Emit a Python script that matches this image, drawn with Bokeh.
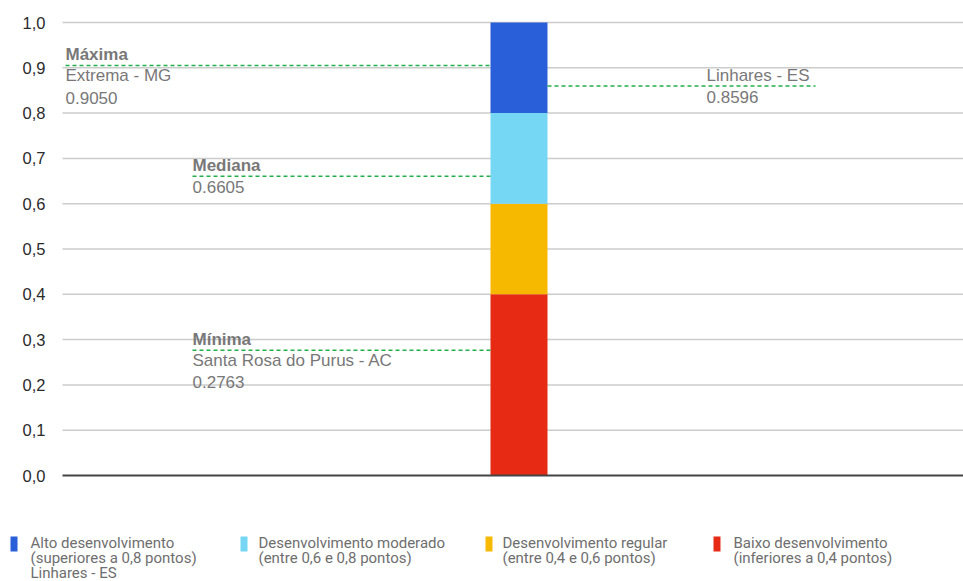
from bokeh.plotting import figure
from bokeh.models import Range1d, ColumnDataSource
from bokeh.core.properties import value
from bokeh.embed import file_html
from bokeh.resources import INLINE

# ---- data ----
band_names = ["Baixo desenvolvimento", "Desenvolvimento regular",
              "Desenvolvimento moderado", "Alto desenvolvimento"]
band_bottom = [0.0, 0.4, 0.6, 0.8]
band_top = [0.4, 0.6, 0.8, 1.0]
band_colors = ["#E62A13", "#F6B900", "#76D7F5", "#2A5FDA"]

marker_titles = ["Máxima", "Mediana", "Mínima", "Linhares - ES"]
marker_bold = [True, True, True, False]
marker_places = ["Extrema - MG", "", "Santa Rosa do Purus - AC", ""]
marker_values = [0.9050, 0.6605, 0.2763, 0.8596]
marker_labels = ["0.9050", "0.6605", "0.2763", "0.8596"]

tick_values = [0.0, 0.1, 0.2, 0.3, 0.4, 0.5, 0.6, 0.7, 0.8, 0.9, 1.0]
tick_labels = ["0,0", "0,1", "0,2", "0,3", "0,4", "0,5", "0,6", "0,7", "0,8", "0,9", "1,0"]

legend_titles = ["Alto desenvolvimento", "Desenvolvimento moderado",
                 "Desenvolvimento regular", "Baixo desenvolvimento"]
legend_subs = ["(superiores a 0,8 pontos)", "(entre 0,6 e 0,8 pontos)",
               "(entre 0,4 e 0,6 pontos)", "(inferiores a 0,4 pontos)"]
legend_extra = ["Linhares - ES", "", "", ""]
legend_colors = ["#2A5FDA", "#76D7F5", "#F6B900", "#E62A13"]

# ---- layout (x in page pixels; y scale: 453 px per unit, zero at page y=475) ----
W, H = 963, 581
ZERO_PY, PX_PER_UNIT = 475, 453.0


def py(v):
    """page-pixel row -> y data value (layout helper for the legend)"""
    return (ZERO_PY - v) / PX_PER_UNIT


PLOT_X0, PLOT_X1 = 62, 963
BAR_X, BAR_W = 518.5, 57
ANN_X0 = [65, 192, 192, 547]
ANN_X1 = [490, 490, 490, 815]
TXT_X = [65, 192, 192, 706]

TEXT_FONT = "Liberation Sans"
GRAY = "#787878"

p = figure(width=W, height=H, output_backend="svg", toolbar_location=None,
           x_range=Range1d(0, W), y_range=Range1d(py(H), py(0)), min_border=0)
p.outline_line_color = None
p.axis.visible = False
p.grid.visible = False

# gridlines and tick labels
grid_vals = [v for v in tick_values if v > 0]
p.segment(x0=[PLOT_X0] * len(grid_vals), y0=grid_vals, x1=[PLOT_X1] * len(grid_vals), y1=grid_vals,
          line_color="#cccccc", line_width=1.5)
p.text(x=[45] * len(tick_values), y=tick_values, text=tick_labels,
       text_font=value(TEXT_FONT), text_font_size="16.5px", text_color="#2b2b2b",
       text_align="right", text_baseline="middle")

# stacked bar
src = ColumnDataSource(dict(x=[BAR_X] * 4, bottom=band_bottom, top=band_top, color=band_colors))
p.vbar(x="x", width=BAR_W, bottom="bottom", top="top", color="color", source=src, line_color=None)

# zero baseline
p.segment(x0=[PLOT_X0], y0=[0.0], x1=[PLOT_X1], y1=[0.0], line_color="#444444", line_width=2)

# marker lines
p.segment(x0=ANN_X0, y0=marker_values, x1=ANN_X1, y1=marker_values,
          line_color="#22B04B", line_width=1.5, line_dash="4 3")

# marker texts
for i in range(4):
    p.text(x=[TXT_X[i]], y=[marker_values[i]], text=[marker_titles[i]], y_offset=-11,
           text_font=value(TEXT_FONT), text_font_size="17px",
           text_font_style="bold" if marker_bold[i] else "normal",
           text_color=GRAY, text_baseline="middle", text_align="left")
    off = 11
    if marker_places[i]:
        p.text(x=[TXT_X[i]], y=[marker_values[i]], text=[marker_places[i]], y_offset=10,
               text_font=value(TEXT_FONT), text_font_size="17px",
               text_color=GRAY, text_baseline="middle", text_align="left")
        off = 32
    p.text(x=[TXT_X[i]], y=[marker_values[i]], text=[marker_labels[i]], y_offset=off,
           text_font=value(TEXT_FONT), text_font_size="17px",
           text_color=GRAY, text_baseline="middle", text_align="left")

# ---- legend ----
SQ_X = [13.5, 243.5, 488.5, 716.5]
TX_X = [30, 258, 502, 733]
LF = "Roboto"
LC = "#6e6e6e"
p.rect(x=SQ_X, y=[py(543.5)] * 4, width=7, height=15 / PX_PER_UNIT,
       color=legend_colors, line_color=None)
p.text(x=TX_X, y=[py(542)] * 4, text=legend_titles, text_font=value(LF), text_font_size="15px",
       text_color=LC, text_baseline="middle")
p.text(x=TX_X, y=[py(557)] * 4, text=legend_subs, text_font=value(LF), text_font_size="15px",
       text_color=LC, text_baseline="middle")
ex_x = [TX_X[i] for i in range(4) if legend_extra[i]]
ex_t = [legend_extra[i] for i in range(4) if legend_extra[i]]
p.text(x=ex_x, y=[py(572)] * len(ex_x), text=ex_t, text_font=value(LF), text_font_size="15px",
       text_color=LC, text_baseline="middle")

open("out.html", "w").write(file_html(p, INLINE))
